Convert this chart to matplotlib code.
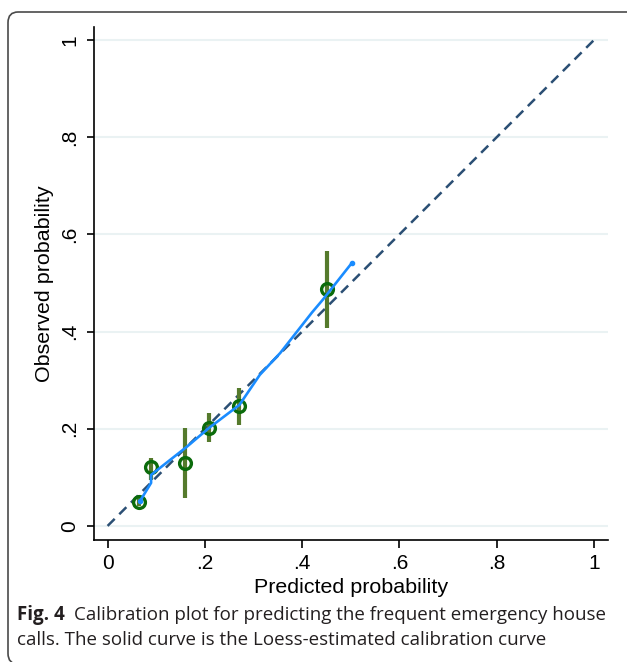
import numpy as np
import matplotlib
matplotlib.use('Agg')
from matplotlib import pyplot as plt
from matplotlib.patches import FancyBboxPatch

# grouped observed vs predicted, with 95% CI
pred = [0.0655, 0.0894, 0.160, 0.209, 0.271, 0.4506]
obs = [0.050, 0.122, 0.129, 0.201, 0.247, 0.487]
ci_lo = [0.041, 0.095, 0.057, 0.173, 0.208, 0.407]
ci_hi = [0.060, 0.139, 0.202, 0.232, 0.283, 0.566]

# loess-estimated calibration curve
loess_x = [0.0668, 0.0894, 0.0894, 0.163, 0.209, 0.271, 0.313, 0.355, 0.420, 0.442, 0.502]
loess_y = [0.0514, 0.0885, 0.105, 0.163, 0.202, 0.249, 0.311, 0.356, 0.439, 0.465, 0.541]

ticks = [0, 0.2, 0.4, 0.6, 0.8, 1]
tick_labels = ['0', '.2', '.4', '.6', '.8', '1']

W, H = 627, 662
fig = plt.figure(figsize=(W / 100, H / 100), dpi=100)
plt.rcParams['font.family'] = ['Liberation Sans', 'DejaVu Sans']

# rounded frame around figure + caption
frame = FancyBboxPatch((8 / W, 1 - 664 / H), 640 / W, (664 - 12) / H,
                       boxstyle='round,pad=0,rounding_size=0.016',
                       transform=fig.transFigure, fill=False,
                       edgecolor='#4a4a4a', linewidth=1.2, clip_on=False)
fig.patches.append(frame)

ax = fig.add_axes([93.5 / W, 1 - 540 / H, (608 - 93.5) / W, (540 - 27) / H])
ax.set_xlim(-0.029, 1.029)
ax.set_ylim(-0.029, 1.027)

for t in ticks:
    ax.axhline(t, color='#eaf2f3', linewidth=1.5, zorder=0)

ax.plot([0, 1], [0, 1], color='#2b4f74', linestyle=(0, (4, 2.6)), linewidth=1.8, zorder=2)

ax.vlines(pred, ci_lo, ci_hi, color='#557a2c', linewidth=3, zorder=3)
ax.plot(pred, obs, linestyle='none', marker='o', markersize=8.5,
        markerfacecolor='none', markeredgecolor='#0b6b0b', markeredgewidth=2.4, zorder=4)

ax.plot(loess_x, loess_y, color='#1a8cff', linewidth=1.9, zorder=5,
        solid_capstyle='round')
ax.plot([loess_x[0], loess_x[-1]], [loess_y[0], loess_y[-1]], linestyle='none',
        marker='o', markersize=3, color='#1a8cff', zorder=5)

ax.set_xticks(ticks)
ax.set_xticklabels(tick_labels)
ax.set_yticks(ticks)
ax.set_yticklabels(tick_labels, rotation=90, va='center')
ax.tick_params(axis='x', length=6, width=1.2, pad=4, labelsize=15)
ax.tick_params(axis='y', length=5, width=1.2, pad=5.5, labelsize=15)

for side in ['top', 'right']:
    ax.spines[side].set_visible(False)
for side in ['left', 'bottom']:
    ax.spines[side].set_linewidth(1.2)

ax.set_xlabel('Predicted probability', fontsize=15.4, labelpad=4)
ax.set_ylabel('Observed probability', fontsize=15.4, labelpad=4)

# caption
cap_font = ['Open Sans', 'DejaVu Sans']
fig.canvas.draw()
r = fig.canvas.get_renderer()
t1 = fig.text(17 / W, 1 - 620 / H, 'Fig. 4', fontsize=13.5, fontweight='bold',
              family=cap_font, color='#231f20')
bb = t1.get_window_extent(renderer=r)
fig.text((bb.x1 + 9) / W, 1 - 620 / H,
         'Calibration plot for predicting the frequent emergency house',
         fontsize=13.5, family=cap_font, color='#231f20')
fig.text(17 / W, 1 - 645 / H,
         'calls. The solid curve is the Loess-estimated calibration curve',
         fontsize=13.5, family=cap_font, color='#231f20')

plt.savefig('out.png', dpi=100)
